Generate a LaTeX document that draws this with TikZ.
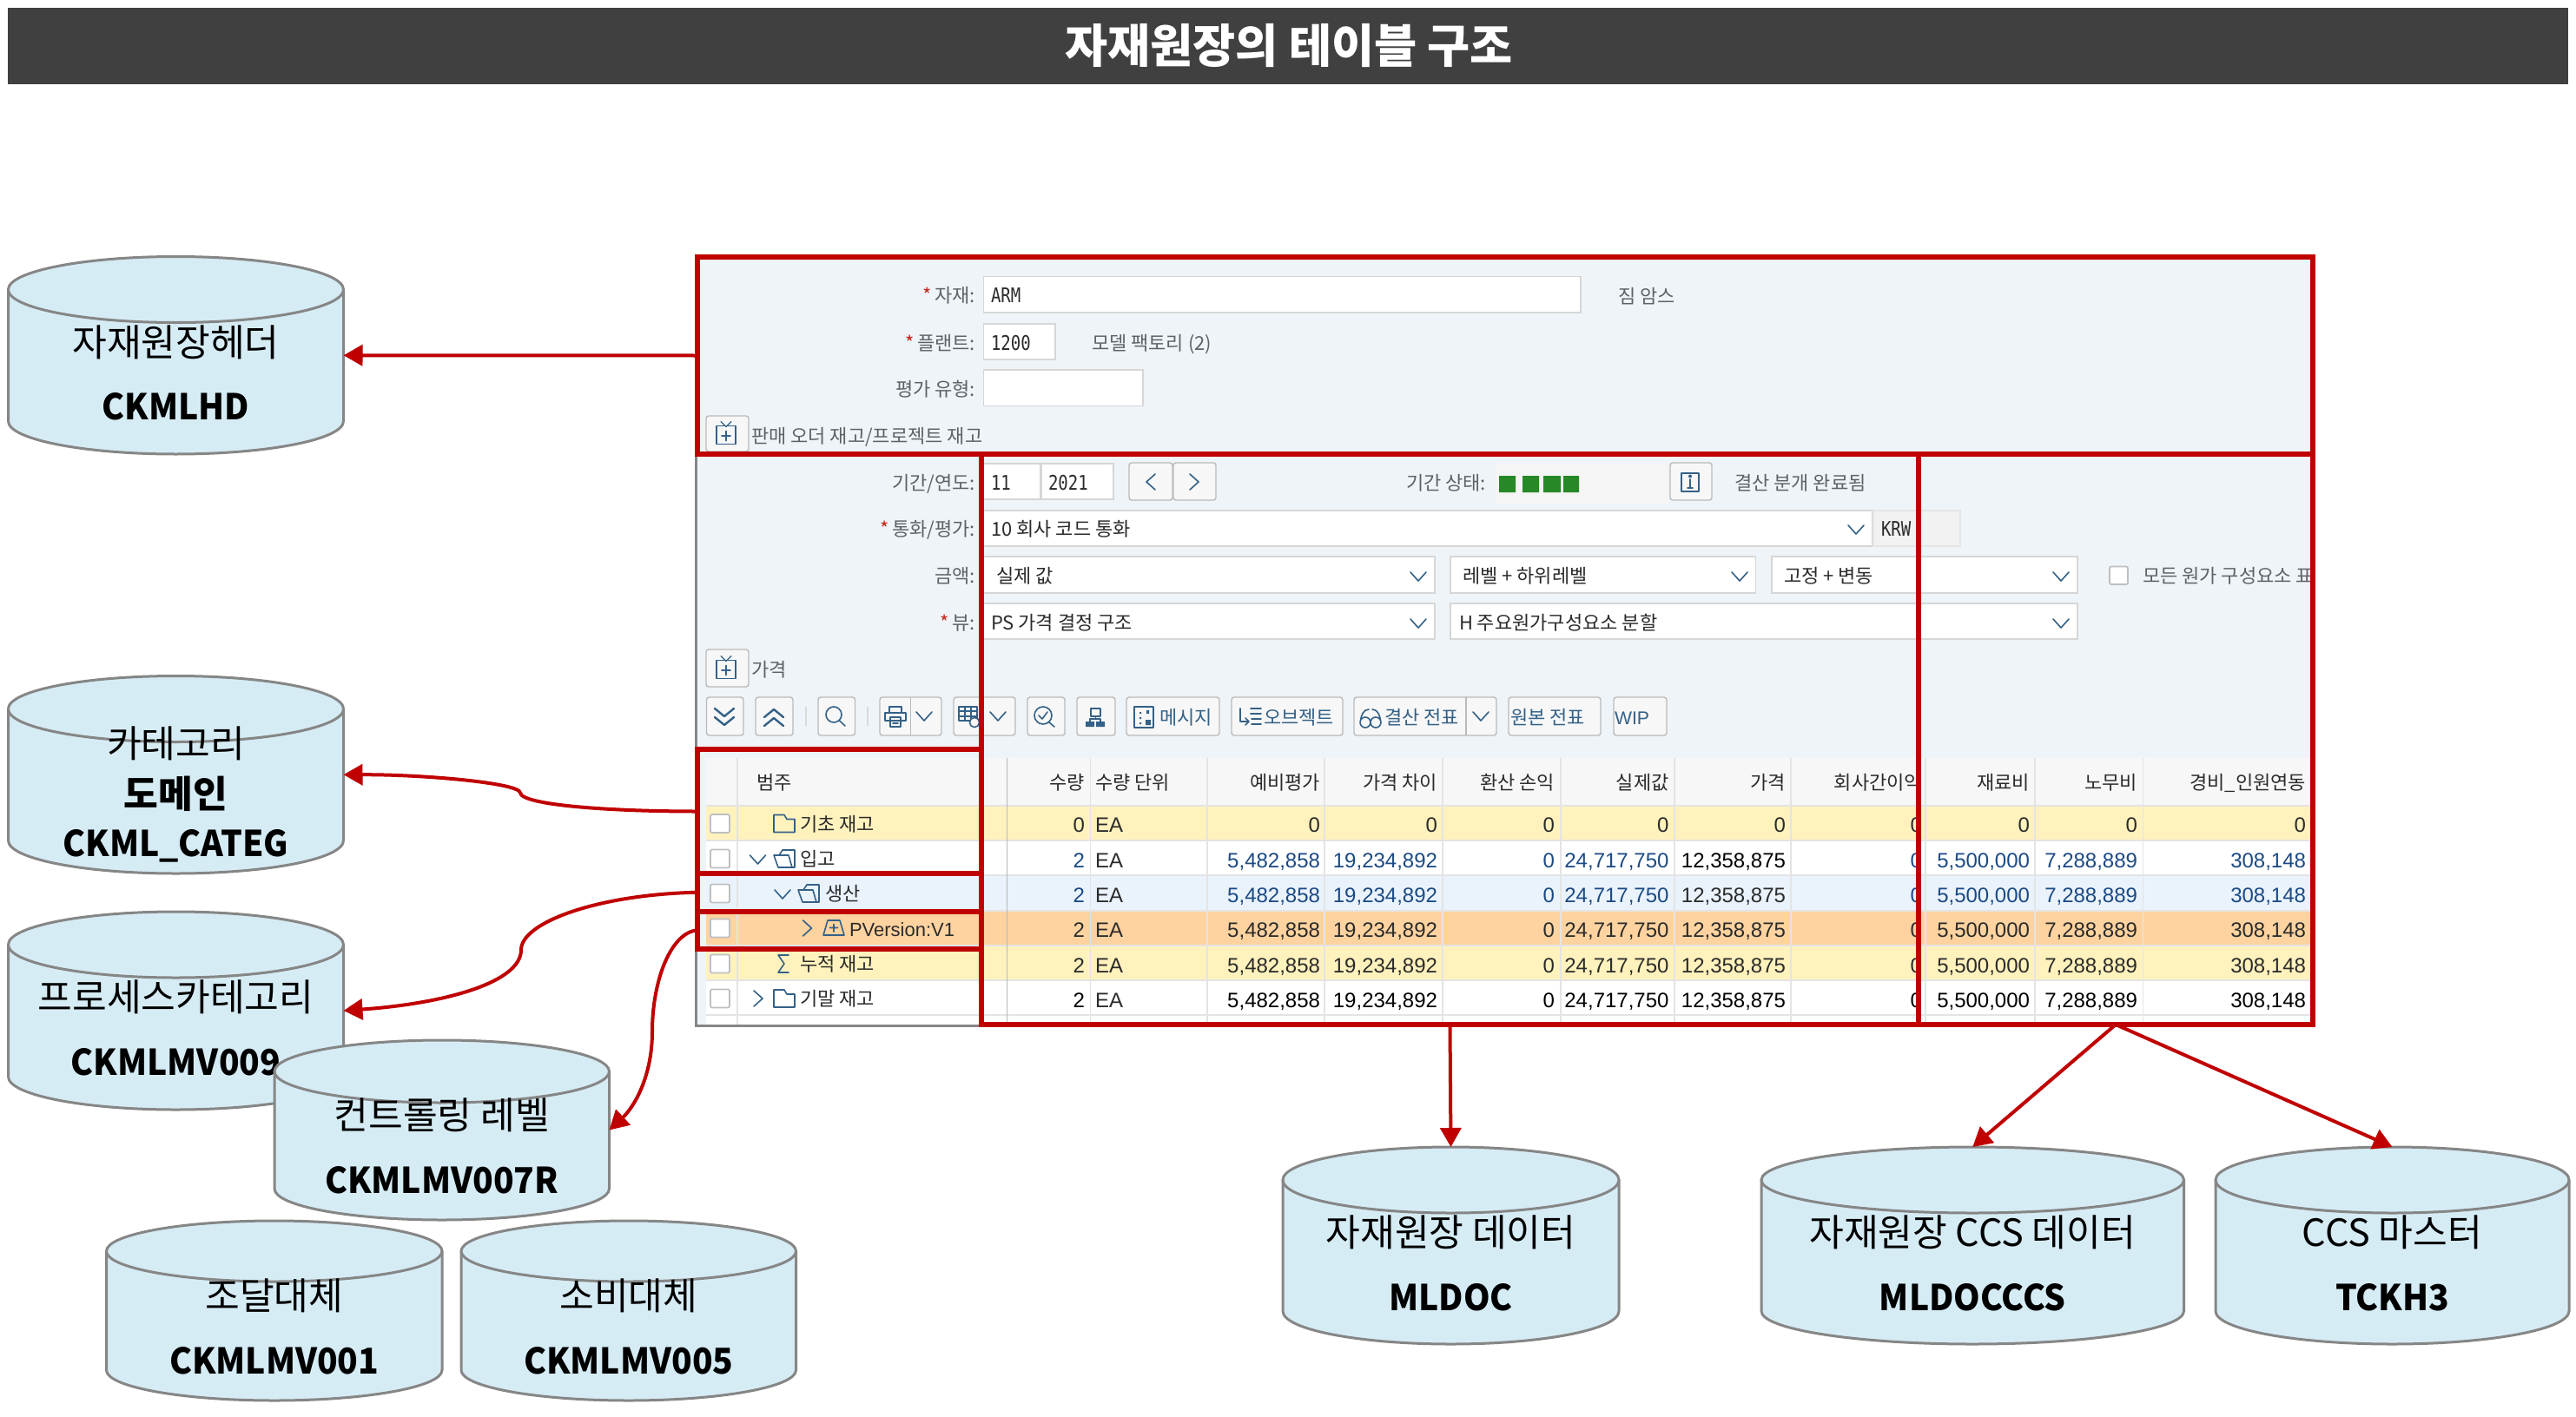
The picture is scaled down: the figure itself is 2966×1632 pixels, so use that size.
\documentclass[tikz,border=0pt]{standalone}
\usepackage{fontspec}
\setmainfont{Noto Sans CJK KR}
\newfontfamily\numf{Liberation Sans}
\newfontfamily\monof[FakeStretch=0.82]{DejaVu Sans Mono}
\newfontfamily\cylf[FakeStretch=0.95]{Noto Sans CJK KR}
\usetikzlibrary{arrows.meta}
\definecolor{frameRed}{HTML}{C00000}
\definecolor{cylFill}{HTML}{D6ECF5}
\definecolor{cylLine}{HTML}{868686}
\definecolor{panelBg}{HTML}{EFF4F9}
\definecolor{barBg}{HTML}{404040}
\definecolor{sapBlue}{HTML}{346187}
\definecolor{numBlue}{HTML}{1B4A84}
\definecolor{lblGray}{HTML}{5F6265}
\definecolor{txtDark}{HTML}{2B2B2B}
\definecolor{rowYellow}{HTML}{FFF2BD}
\definecolor{rowBlue}{HTML}{EAF3FC}
\definecolor{rowOrange}{HTML}{FFD3A0}
\definecolor{hdrBg}{HTML}{F7F7F7}
\definecolor{gridLine}{HTML}{E4E4E4}
\definecolor{starRed}{HTML}{C8281E}
\newcount\tcnt
\tikzset{
  x=0.5pt,y=-0.5pt,
  txt/.style={inner sep=0pt,outer sep=0pt},
  redbox/.style={draw=frameRed,line width=3pt,inner sep=0pt,outer sep=0pt,fill=none},
  cylshape/.style={fill=cylFill,draw=cylLine,line width=1.5pt},
  conn/.style={draw=frameRed,line width=2pt,-{Triangle[length=11pt,width=12pt]}},
  inputbox/.style={fill=white,draw=black!16,line width=.7pt},
  btnbox/.style={fill=hdrBg,draw=black!27,line width=.7pt,rounded corners=1.5pt},
  icon/.style={draw=sapBlue,line width=.8pt,line join=round,line cap=round},
  iconfill/.style={fill=sapBlue,draw=none},
  check/.style={fill=white,draw=black!25,line width=.9pt,rounded corners=1pt},
  grid/.style={draw=gridLine,line width=.6pt},
}
% text helpers: x, centre-y, colour, font size in pt, text
\newcommand{\lblW}[5]{\global\advance\tcnt by 1\relax
  \node[txt,name=t\the\tcnt,anchor=base west,text=#3] at ({#1},{#2+9}) {\fontsize{#4}{#4}\selectfont #5};}
\newcommand{\lblE}[5]{\global\advance\tcnt by 1\relax
  \node[txt,name=t\the\tcnt,anchor=base east,text=#3] at ({#1},{#2+9}) {\fontsize{#4}{#4}\selectfont #5};}
\newcommand{\numE}[4]{\global\advance\tcnt by 1\relax
  \node[txt,name=t\the\tcnt,anchor=base east,text=#3] at ({#1},{#2+10}) {\numf\fontsize{12}{12}\selectfont #4};}
\newcommand{\numW}[4]{\global\advance\tcnt by 1\relax
  \node[txt,name=t\the\tcnt,anchor=base west,text=#3] at ({#1},{#2+10}) {\numf\fontsize{12}{12}\selectfont #4};}
\newcommand{\monoW}[3]{\global\advance\tcnt by 1\relax
  \node[txt,name=t\the\tcnt,anchor=base west,text=txtDark] at ({#1},{#2+9}) {\monof\fontsize{11.6}{11.6}\selectfont #3};}
\newcommand{\req}{\textcolor{starRed}{*}\,}
% chevrons
\newcommand{\chD}[2]{\draw[icon] ({#1-9},{#2-5}) -- ({#1},{#2+5}) -- ({#1+9},{#2-5});}
\newcommand{\chR}[2]{\draw[icon] ({#1-5},{#2-9}) -- ({#1+5},{#2}) -- ({#1-5},{#2+9});}
\newcommand{\chL}[2]{\draw[icon] ({#1+5},{#2-9}) -- ({#1-5},{#2}) -- ({#1+5},{#2+9});}
% cylinder: name x1 y1 x2 y2 ry
\newcommand{\cyl}[6]{%
  \pgfmathsetmacro{\cx}{(#2+#4)/2}\pgfmathsetmacro{\rx}{(#4-#2)/2}
  \pgfmathsetmacro{\kx}{0.5523*\rx}\pgfmathsetmacro{\ky}{0.5523*#6}
  \pgfmathsetmacro{\tc}{#3+#6}\pgfmathsetmacro{\tb}{#3+2*#6}\pgfmathsetmacro{\bc}{#5-#6}
  \draw[cylshape] (#2,\tc) -- (#2,\bc) .. controls (#2,\bc+\ky) and (\cx-\kx,#5) .. (\cx,#5)
     .. controls (\cx+\kx,#5) and (#4,\bc+\ky) .. (#4,\bc) -- (#4,\tc);
  \draw[cylshape] (#2,\tc) .. controls (#2,\tc-\ky) and (\cx-\kx,#3) .. (\cx,#3)
     .. controls (\cx+\kx,#3) and (#4,\tc-\ky) .. (#4,\tc)
     .. controls (#4,\tc+\ky) and (\cx+\kx,\tb) .. (\cx,\tb)
     .. controls (\cx-\kx,\tb) and (#2,\tc+\ky) .. (#2,\tc) -- cycle;
  \pgfmathsetmacro{\wpt}{(#4-#2)*0.5}\pgfmathsetmacro{\hpt}{(#5-#3)*0.5}
  \node[txt,name=#1,minimum width=\wpt pt,minimum height=\hpt pt,anchor=north west] at (#2,#3) {};
}
\newcommand{\cylK}[2]{\global\advance\tcnt by 1\relax
  \node[txt,name=t\the\tcnt,anchor=base,text=black] at (\cx,{#1+17}) {\fontsize{21.6}{21.6}\selectfont #2};}
\newcommand{\cylB}[2]{\global\advance\tcnt by 1\relax
  \node[txt,name=t\the\tcnt,anchor=base,text=black] at (\cx,{#1+16}) {\cylf\fontsize{20.5}{20.5}\selectfont\bfseries #2};}
% red frame: name x1 y1 x2 y2
\newcommand{\rbox}[5]{%
  \pgfmathsetmacro{\wpt}{(#4-#2)*0.5}\pgfmathsetmacro{\hpt}{(#5-#3)*0.5}
  \node[redbox,name=#1,minimum width=\wpt pt,minimum height=\hpt pt,anchor=north west] at (#2,#3) {};
}
\newcommand{\expbtn}[3]{% x y1 y2
  \draw[btnbox] (#1,#2) rectangle ({#1+49},#3);
  \pgfmathsetmacro{\ym}{(#2+#3)/2}
  \draw[icon] ({#1+12},{\ym-9}) rectangle ({#1+34},{\ym+12});
  \draw[icon] ({#1+23},{\ym-3}) -- ({#1+23},{\ym+8}) ({#1+18},{\ym+2.5}) -- ({#1+28},{\ym+2.5});
  \draw[icon,line width=.6pt] ({#1+17},{\ym-14}) -- ({#1+23},{\ym-8}) -- ({#1+29},{\ym-14});
}
\newcommand{\folder}[2]{% closed, left x, centre y
  \draw[icon] (#1,{#2-10}) -- ({#1+12},{#2-10}) -- ({#1+15},{#2-5}) -- ({#1+24},{#2-5}) -- ({#1+24},{#2+10}) -- (#1,{#2+10}) -- cycle;}
\newcommand{\ofolder}[2]{% open
  \draw[icon] ({#1+6},{#2-4}) -- ({#1+10},{#2-10}) -- ({#1+24},{#2-10}) -- ({#1+24},{#2+10}) -- ({#1+5},{#2+10}) -- (#1,{#2-4}) -- ({#1+17},{#2-4}) -- ({#1+21},{#2+10});}
\newcommand{\datarow}[3]{% y blue-colour price-colour
  \numE{1249}{#1}{#2}{2}\numW{1261}{#1}{txtDark}{EA}
  \numE{1520}{#1}{#2}{5,482,858}\numE{1655}{#1}{#2}{19,234,892}\numE{1790}{#1}{#2}{0}
  \numE{1921.5}{#1}{#2}{24,717,750}\numE{2056}{#1}{#3}{12,358,875}\numE{2213}{#1}{#2}{0}
  \numE{2337}{#1}{#2}{5,500,000}\numE{2461}{#1}{#2}{7,288,889}\numE{2655}{#1}{#2}{308,148}
}
\begin{document}
\begin{tikzpicture}
\useasboundingbox (0,0) rectangle (2966,1632);
\fill[white] (0,0) rectangle (2966,1632);
% title
\fill[barBg] (9,9) rectangle (2957,97);
\node[txt,name=title,text=white,anchor=base] at (1484,73) {\fontsize{26.7}{26.7}\selectfont\bfseries 자재원장의 테이블 구조};

% panel
\fill[panelBg] (803,296) rectangle (2663,1180);
\begin{scope}
\clip (803,296) rectangle (2660,1180);
% header form
\draw[inputbox] (1132.5,318.5) rectangle (1820,360);
\draw[inputbox] (1132.5,373) rectangle (1215,414);
\draw[inputbox] (1132.5,426) rectangle (1316,467.5);
\lblE{1123}{339}{lblGray}{11}{\req 자재:}
\lblE{1123}{394}{lblGray}{11}{\req 플랜트:}
\lblE{1123}{447}{lblGray}{11}{평가 유형:}
\monoW{1141}{339}{ARM}
\monoW{1141}{394}{1200}
\lblW{1257}{394}{lblGray}{11}{모델 팩토리 (2)}
\lblW{1863}{340}{lblGray}{11}{짐 암스}
\expbtn{813}{479}{520}
\lblW{865}{501}{lblGray}{11}{판매 오더 재고/프로젝트 재고}
% period row
\lblE{1123}{555}{lblGray}{11}{기간/연도:}
\draw[inputbox] (1132.5,534) rectangle (1198,575);
\draw[inputbox] (1199.5,534) rectangle (1282,575);
\monoW{1141}{555}{11}
\monoW{1207}{555}{2021}
\draw[btnbox] (1300,533) rectangle (1350,576);
\draw[btnbox] (1351,533) rectangle (1400,576);
\chL{1325}{555}\chR{1375}{555}
\lblE{1711}{555}{lblGray}{11}{기간 상태:}
\fill[black!4] (1721,534) rectangle (1921,580);
\fill[green!45!black!85] (1726,548) rectangle (1745,567) (1753,548) rectangle (1772,567) (1777,548) rectangle (1797,567) (1800,548) rectangle (1818,567);
\draw[btnbox] (1923,533) rectangle (1971,576);
\draw[icon] (1936,545) rectangle (1956,566);
\draw[icon] (1946,552) -- (1946,562) (1943,562) -- (1949,562);
\fill[sapBlue] (1946,548.5) circle (1pt);
\lblW{1997}{555}{lblGray}{11}{결산 분개 완료됨}
% currency row
\lblE{1123}{608}{lblGray}{11}{\req 통화/평가:}
\draw[inputbox] (1132.5,588) rectangle (2156,629);
\lblW{1141}{608}{txtDark}{11}{10 회사 코드 통화}
\chD{2137}{610}
\fill[black!5] (2157,588) rectangle (2257,629);
\draw[black!10,line width=.6pt] (2157,588) rectangle (2257,629);
\monoW{2166}{608}{KRW}
% amount row
\lblE{1123}{662}{lblGray}{11}{금액:}
\draw[inputbox] (1132.5,641) rectangle (1652,683);
\draw[inputbox] (1670,641) rectangle (2021.5,683);
\draw[inputbox] (2040,641) rectangle (2392,683);
\lblW{1147}{662}{txtDark}{11}{실제 값}
\lblW{1684}{662}{txtDark}{11}{레벨 + 하위레벨}
\lblW{2054}{662}{txtDark}{11}{고정 + 변동}
\chD{1633}{664}\chD{2003}{664}\chD{2373}{664}
\draw[check] (2429,652.5) rectangle (2450,673);
\lblW{2467}{662}{lblGray}{11}{모든 원가 구성요소 표시}
% view row
\lblE{1123}{716}{lblGray}{11}{\req 뷰:}
\draw[inputbox] (1132.5,695) rectangle (1652,736);
\draw[inputbox] (1670,695) rectangle (2392,736);
\lblW{1141}{716}{txtDark}{11}{PS 가격 결정 구조}
\lblW{1680}{716}{txtDark}{11}{H 주요원가구성요소 분할}
\chD{1633}{718}\chD{2373}{718}
\expbtn{813}{748}{791}
\lblW{865}{770}{lblGray}{11}{가격}
% toolbar
\foreach \a/\b in {813.5/856,870/913,942/984.5,1013/1084,1098/1169,1183/1226,1240/1284,1297/1404,1418/1546,1559/1723,1737/1843,1858/1919}
  {\draw[btnbox] (\a,803) rectangle (\b,847);}
\draw[black!27,line width=.7pt] (1048.5,803) -- (1048.5,847) (1688,803) -- (1688,847);
\draw[black!15,line width=.8pt] (928,814) -- (928,836) (999,814) -- (999,836);
\draw[icon,line width=1.2pt] (823,816) -- (834,825) -- (845,816) (823,826) -- (834,835) -- (845,826);
\draw[icon,line width=1.2pt] (880,826) -- (891,817) -- (902,826) (880,836) -- (891,827) -- (902,836);
\draw[icon] (960,823) circle (4.5pt) (966.5,830) -- (973,836);
\draw[icon] (1024,821) -- (1024,814) -- (1038,814) -- (1038,821) (1019,821) rectangle (1043,830) (1025,826) rectangle (1037,837) (1028,830) -- (1034,830) (1028,833) -- (1034,833);
\chD{1064}{825}
\draw[icon] (1104,814) rectangle (1125,830) (1111,814) -- (1111,830) (1118,814) -- (1118,830) (1104,819) -- (1125,819) (1104,825) -- (1125,825);
\draw[icon,fill=hdrBg] (1122,832) circle (2.8pt);
\chD{1149}{825}
\draw[icon] (1201,824) circle (5pt) (1208,832) -- (1214,837) (1196,824) -- (1200,828) -- (1206,820);
\draw[icon] (1256,816) rectangle (1267,825) (1261.5,825) -- (1261.5,828) (1255,831) -- (1255,828) -- (1267,828) -- (1267,831);
\fill[sapBlue] (1250,831) rectangle (1260,837) (1262,831) rectangle (1272,837);
\draw[icon] (1306,814) rectangle (1328,838);
\fill[sapBlue] (1312,820) rectangle (1314,822) (1312,826) rectangle (1314,828) (1312,832) rectangle (1314,834) (1320,818) rectangle (1323,822) (1319,829) rectangle (1325,835);
\lblW{1335}{825}{sapBlue}{11}{메시지}
\draw[icon] (1428,816) -- (1428,831) -- (1437,831) (1434,827) -- (1438,831) -- (1434,835) (1440,816) -- (1452,816) (1440,822) -- (1452,822) (1441,828) -- (1452,828) (1441,834) -- (1452,834);
\lblW{1455}{825}{sapBlue}{11}{오브젝트}
\draw[icon] (1572,832) circle (3pt) (1584,832) circle (3pt) (1576,817) .. controls (1570,817) and (1567,824) .. (1566.5,830) (1580,817) .. controls (1586,817) and (1589,824) .. (1589.5,830);
\lblW{1594}{825}{sapBlue}{11}{결산 전표}
\chD{1705}{825}
\lblW{1739}{825}{sapBlue}{11}{원본 전표}
\global\advance\tcnt by 1\relax
\node[txt,name=t\the\tcnt,anchor=base west,text=sapBlue] at (1859,834) {\numf\fontsize{10.6}{10.6}\selectfont WIP};
% table
\fill[hdrBg] (813,873) rectangle (2660,928);
\fill[rowYellow] (813,928) rectangle (2660,968);
\fill[white] (813,968) rectangle (2660,1008);
\fill[rowBlue] (813,1008) rectangle (2660,1049);
\fill[rowOrange] (813,1049) rectangle (2660,1089);
\fill[rowYellow] (813,1089) rectangle (2660,1129);
\fill[white] (813,1129) rectangle (2660,1180);
\foreach \yy in {928,968,1008,1049,1089,1129,1169} {\draw[grid] (813,\yy) -- (2660,\yy);}
\foreach \xx in {849,1255.5,1390,1525,1661,1797,1928,2062,2217,2343,2467.5} {\draw[grid] (\xx,873) -- (\xx,1180);}
\draw[black!28,line width=.5pt] (1159,873) -- (1159,1180);
% headers
\lblW{871}{900}{txtDark}{11}{범주}
\lblE{1249}{900}{txtDark}{11}{수량}
\lblW{1261}{900}{txtDark}{11}{수량 단위}
\lblE{1520}{900}{txtDark}{11}{예비평가}
\lblE{1655}{900}{txtDark}{11}{가격 차이}
\lblE{1790}{900}{txtDark}{11}{환산 손익}
\lblE{1921.5}{900}{txtDark}{11}{실제값}
\lblE{2056}{900}{txtDark}{11}{가격}
\lblE{2213}{900}{txtDark}{11}{회사간이익}
\lblE{2337}{900}{txtDark}{11}{재료비}
\lblE{2461}{900}{txtDark}{11}{노무비}
\lblE{2655}{900}{txtDark}{11}{경비\_인원연동}
% checkboxes
\foreach \yy in {948.5,989,1029,1069,1110,1150} {\draw[check] (818,{\yy-10.5}) rectangle (840,{\yy+10.5});}
% tree
\folder{891}{948.5}\lblW{921}{948}{txtDark}{11}{기초 재고}
\chD{872.5}{990}\ofolder{891}{989}\lblW{921}{988}{txtDark}{11}{입고}
\chD{901}{1030}\ofolder{919}{1029}\lblW{950}{1028}{txtDark}{11}{생산}
\chR{929.5}{1069}
\draw[icon] (948,1077) -- (953,1060) -- (967,1060) -- (972,1077) -- cycle (960,1064.5) -- (960,1073) (955.5,1068.5) -- (964.5,1068.5);
\global\advance\tcnt by 1\relax
\node[txt,name=t\the\tcnt,anchor=base west,text=txtDark] at (978,1078) {\numf\fontsize{11}{11}\selectfont PVersion:V1};
\draw[icon] (908,1100) -- (896,1100) -- (903,1110) -- (896,1120) -- (908,1120);
\lblW{921}{1109}{txtDark}{11}{누적 재고}
\chR{873}{1150}\folder{891}{1150}\lblW{921}{1149}{txtDark}{11}{기말 재고}
% data
\numE{1249}{948}{txtDark}{0}\numW{1261}{948}{txtDark}{EA}
\foreach \xx in {1520,1655,1790,1921.5,2056,2213,2337,2461,2655} {\numE{\xx}{948}{txtDark}{0}}
\datarow{989}{numBlue}{black}
\datarow{1029}{numBlue}{txtDark}
\datarow{1069}{txtDark}{txtDark}
\datarow{1110}{txtDark}{txtDark}
\datarow{1150}{black}{black}
\end{scope}
% panel outline
\draw[cylLine,line width=1.5pt] (801.5,523) -- (801.5,1181.5) -- (1130,1181.5);
% red frames
\rbox{midbox}{1130}{523}{2209}{1180}
\rbox{rightbox}{2209}{523}{2663}{1180}
\rbox{hdrbox}{803}{296}{2663}{523}
\rbox{catbox}{803}{863}{1130}{1006}
\rbox{prodbox}{803}{1006}{1130}{1049.5}
\rbox{pverbox}{803}{1049.5}{1130}{1093}
% cylinders
\cyl{cylA}{9.5}{295.5}{395.5}{523}{38}
\cylK{393}{자재원장헤더}\cylB{467}{CKMLHD}
\cyl{cylB}{9.5}{778.5}{395.5}{1006}{38}
\cylK{855}{카테고리}\cylK{913}{\bfseries 도메인}\cylB{970}{CKML\_CATEG}
\cyl{cylC}{9.5}{1050}{395.5}{1278}{38}
\cylK{1147}{프로세스카테고리}\cylB{1222}{CKMLMV009}
\cyl{cylD}{316}{1198}{701.5}{1405}{36}
\cylK{1283}{컨트롤링 레벨}\cylB{1358}{CKMLMV007R}
\cyl{cylE}{122.5}{1406}{509}{1613}{35}
\cylK{1491}{조달대체}\cylB{1566}{CKMLMV001}
\cyl{cylF}{531}{1406}{916.5}{1613}{35}
\cylK{1491}{소비대체}\cylB{1566}{CKMLMV005}
\cyl{cylG}{1477}{1321}{1864}{1548}{38}
\cylK{1418}{자재원장 데이터}\cylB{1493}{MLDOC}
\cyl{cylH}{2028}{1321}{2514.5}{1548}{38}
\cylK{1418}{자재원장 CCS 데이터}\cylB{1493}{MLDOCCCS}
\cyl{cylI}{2551}{1321}{2958}{1548}{38}
\cylK{1418}{CCS 마스터}\cylB{1493}{TCKH3}
% connectors
\coordinate (bendB) at (599,913);
\coordinate (bendC) at (600,1094);
\coordinate (bendD) at (751,1188);
\draw[conn] (hdrbox.west) -- (cylA.east);
\draw[conn] (catbox.west) .. controls (700,934.5) and (600,927) .. (bendB) .. controls (598,902) and (490,892) .. (cylB.east);
\draw[conn] (prodbox.west) .. controls (690,1030) and (600,1062) .. (bendC) .. controls (600,1132) and (510,1156) .. (cylC.east);
\draw[conn] (pverbox.west) .. controls (772,1074) and (751,1130) .. (bendD) .. controls (751,1240) and (730,1275) .. (cylD.east);
\draw[conn] (midbox.south) -- (cylG.north);
\draw[conn] (rightbox.south) -- (cylH.north);
\draw[conn] (rightbox.south) -- (cylI.north);
\end{tikzpicture}
\end{document}
